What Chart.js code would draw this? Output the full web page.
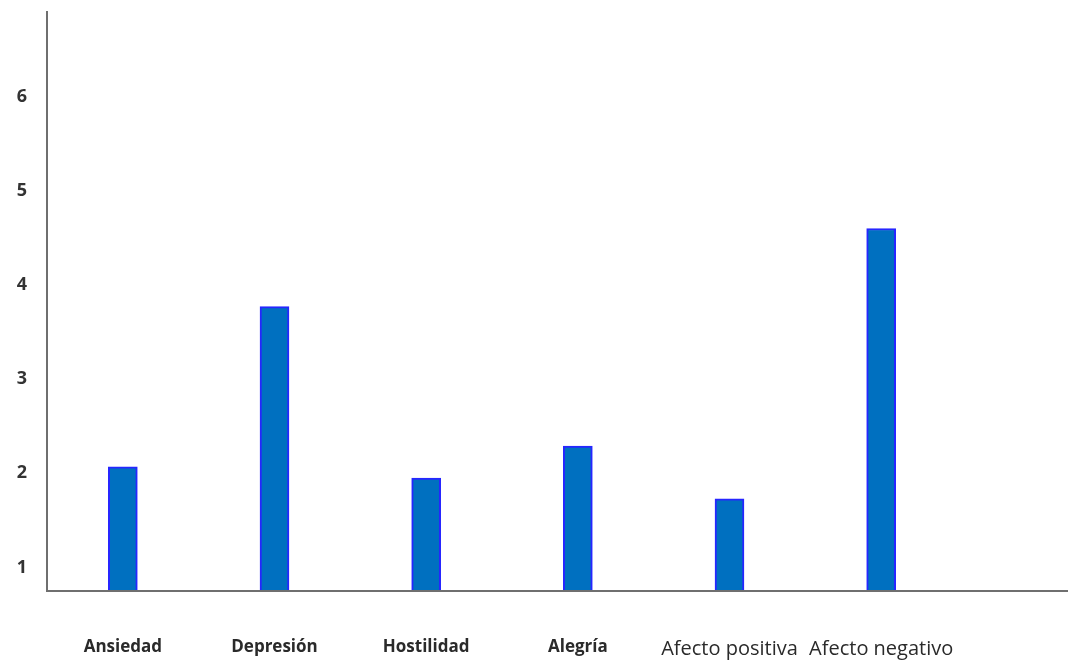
<!DOCTYPE html>
<html>
<head>
<meta charset="utf-8">
<script src="https://cdn.jsdelivr.net/npm/chart.js@4/dist/chart.umd.min.js"></script>
<style>
  html, body { margin: 0; padding: 0; background: #fff; }
  #wrap { width: 1068px; height: 666px; }
</style>
</head>
<body>
<div id="wrap"><canvas id="c" width="1068" height="666"></canvas></div>
<script>
const categorias = ["Ansiedad", "Depresión", "Hostilidad", "Alegría", "Afecto positiva", "Afecto negativo"];
const valores = [2.07, 3.77, 1.95, 2.29, 1.73, 4.6];
const ticksY = [1, 2, 3, 4, 5, 6];

// el eje X del original sigue hasta el borde derecho de la imagen
const ejeX = {
  id: "ejeX",
  afterDraw(chart) {
    const { ctx, chartArea } = chart;
    ctx.save();
    ctx.strokeStyle = "#6f6f6f";
    ctx.lineWidth = 2;
    ctx.beginPath();
    ctx.moveTo(chartArea.left, chartArea.bottom);
    ctx.lineTo(chart.width, chartArea.bottom);
    ctx.stroke();
    ctx.restore();
  },
};

new Chart(document.getElementById("c"), {
  type: "bar",
  data: {
    labels: categorias,
    datasets: [{
      data: valores,
      backgroundColor: "#0070c0",
      borderColor: "#2626ff",
      borderWidth: 2,
      barThickness: 29,
      base: 0.75,
    }],
  },
  plugins: [ejeX],
  options: {
    responsive: false,
    animation: false,
    layout: { padding: { top: 12, right: 111, left: 0, bottom: 0 } },
    plugins: { legend: { display: false }, tooltip: { enabled: false } },
    scales: {
      x: {
        grid: { display: false, drawTicks: false },
        border: { display: false },
        afterFit: (s) => { s.height = 75; s.paddingLeft = 0; s.paddingRight = 0; },
        ticks: {
          color: "#2a2a2a",
          padding: 46,
          maxRotation: 0,
          autoSkip: false,
          // las dos últimas etiquetas van en letra más grande, como en el original
          font: (c) => c.index >= 4
            ? { family: "Open Sans", size: 20, weight: "normal" }
            : { family: "Open Sans", size: 17, weight: "bold" },
        },
      },
      y: {
        min: 0.75,
        max: 6.9,
        grid: { display: false, drawTicks: false },
        border: { display: true, color: "#6f6f6f", width: 2 },
        afterBuildTicks: (s) => { s.ticks = ticksY.map((v) => ({ value: v })); },
        afterFit: (s) => { s.width = 47; s.paddingTop = 0; s.paddingBottom = 0; },
        ticks: {
          color: "#333",
          padding: 20,
          font: { family: "Open Sans", size: 18, weight: "bold" },
        },
      },
    },
  },
});
</script>
</body>
</html>
